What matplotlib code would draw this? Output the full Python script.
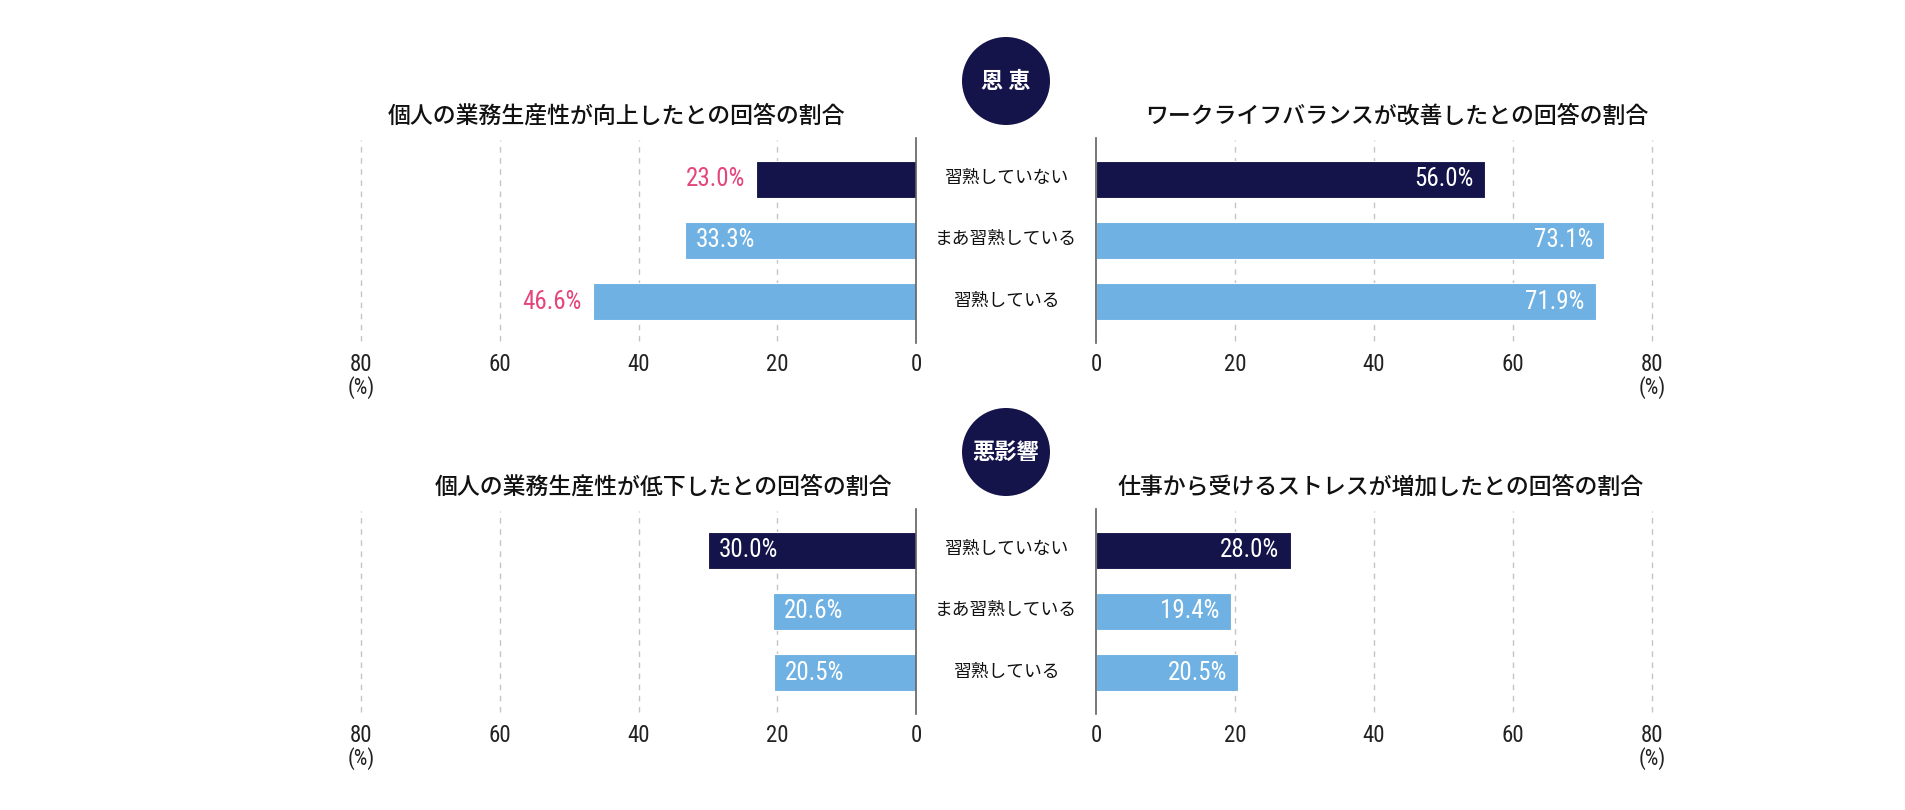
import matplotlib.pyplot as plt
from matplotlib import font_manager
from matplotlib.patches import Ellipse

# fonts
jp = 'Noto Sans CJK JP'
fonts = font_manager.fontManager.ttflist
names = {f.name for f in fonts}
cond = [f for f in fonts if f.name == 'DejaVu Sans' and f.stretch == 'condensed']
if 'Liberation Sans Narrow' in names:
    num_font, num_stretch, num_size = 'Liberation Sans Narrow', 'normal', 17
elif 'Roboto Condensed' in names:
    num_font, num_stretch, num_size = 'Roboto Condensed', 'normal', 18
elif cond:
    num_font, num_stretch, num_size = 'DejaVu Sans', 'condensed', 16
else:
    num_font, num_stretch, num_size = 'DejaVu Sans', 'normal', 14
plt.rcParams['font.family'] = [jp, 'DejaVu Sans']

# data
categories = ['習熟していない', 'まあ習熟している', '習熟している']
prod_up = [23.0, 33.3, 46.6]
wlb_up = [56.0, 73.1, 71.9]
prod_down = [30.0, 20.6, 20.5]
stress_up = [28.0, 19.4, 20.5]
ticks = [0, 20, 40, 60, 80]

navy = '#15144a'
light = '#6fb1e2'
pink = '#e4457c'
bar_colors = [navy, light, light]

W, H = 1905, 810
fig = plt.figure(figsize=(W / 100, H / 100), dpi=100)
fig.patch.set_facecolor('white')
numkw = dict(family=[num_font, jp], stretch=num_stretch)


def px_axes(x0, x1, y0, y1):
    return fig.add_axes([x0 / W, 1 - y1 / H, (x1 - x0) / W, (y1 - y0) / H])


def panel(x0, x1, ytop, values, left, inside):
    ax = px_axes(x0, x1, ytop, ytop + 205)
    ys = range(len(values))
    ax.barh(ys, values, height=0.6, color=bar_colors, edgecolor='white',
            linewidth=0.8, zorder=2)
    ax.set_ylim(2.67, -0.67)
    if left:
        ax.set_xlim(80, 0)
    else:
        ax.set_xlim(0, 80)
    for t in ticks[1:]:
        ax.axvline(t, ymin=0.01, ymax=0.99, color='#c4c4c4', lw=1.0,
                   ls=(0, (4, 4)), zorder=1, clip_on=False)
    for s in ax.spines.values():
        s.set_visible(False)
    zero = 'right' if left else 'left'
    ax.spines[zero].set_visible(True)
    ax.spines[zero].set_color('#606060')
    ax.spines[zero].set_linewidth(1.2)
    ax.set_yticks([])
    ax.set_xticks(ticks)
    ax.set_xticklabels([str(t) for t in ticks], fontsize=16.5, color='#222222',
                       **numkw)
    ax.tick_params(axis='x', length=0, pad=7)
    ax.set_facecolor('none')
    ax.annotate('(%)', xy=(80, 0), xycoords=('data', 'axes fraction'),
                xytext=(0, -32), textcoords='offset points', ha='center',
                va='center', fontsize=15.5, color='#222222', **numkw)
    for i, v in enumerate(values):
        lab = f'{v:.1f}%'
        if i in inside:
            ax.annotate(lab, xy=(v, i), xytext=(8 if left else -8, 0),
                        textcoords='offset points', ha='left' if left else 'right',
                        va='center', color='white', fontsize=num_size,
                        zorder=3, **numkw)
        else:
            ax.annotate(lab, xy=(v, i), xytext=(-8 if left else 8, 0),
                        textcoords='offset points', ha='right' if left else 'left',
                        va='center', color=pink, fontsize=num_size,
                        zorder=3, **numkw)
    return ax


# top: benefits
panel(361, 916, 138, prod_up, True, inside=[1])
panel(1096, 1652, 138, wlb_up, False, inside=[0, 1, 2])
# bottom: negative effects
panel(361, 916, 509, prod_down, True, inside=[0, 1, 2])
panel(1096, 1652, 509, stress_up, False, inside=[0, 1, 2])


def ftext(x, y, s, **kw):
    fig.text(x / W, 1 - y / H, s, **kw)


# category labels in the middle
for off in (0, 371):
    for i, c in enumerate(categories):
        ftext(1006, 178 + off + i * 61.3, c, ha='center', va='center',
              fontsize=12.8, color='#111111')

# panel titles
ftext(616, 116, '個人の業務生産性が向上したとの回答の割合', ha='center', va='center',
      fontsize=16.5, color='#111111', weight='medium')
ftext(1397, 116, 'ワークライフバランスが改善したとの回答の割合', ha='center', va='center',
      fontsize=16.5, color='#111111', weight='medium')
ftext(663, 487, '個人の業務生産性が低下したとの回答の割合', ha='center', va='center',
      fontsize=16.5, color='#111111', weight='medium')
ftext(1381, 487, '仕事から受けるストレスが増加したとの回答の割合', ha='center', va='center',
      fontsize=16.5, color='#111111', weight='medium')

# circle badges
for cy, label in ((81, '恩 恵'), (452, '悪影響')):
    e = Ellipse((1006 / W, 1 - cy / H), 88 / W, 88 / H, transform=fig.transFigure,
                facecolor=navy, edgecolor='none')
    fig.patches.append(e)
    ftext(1006, cy, label, ha='center', va='center', fontsize=16,
          color='white', weight='bold')

fig.savefig('out.png', dpi=100, facecolor='white')
